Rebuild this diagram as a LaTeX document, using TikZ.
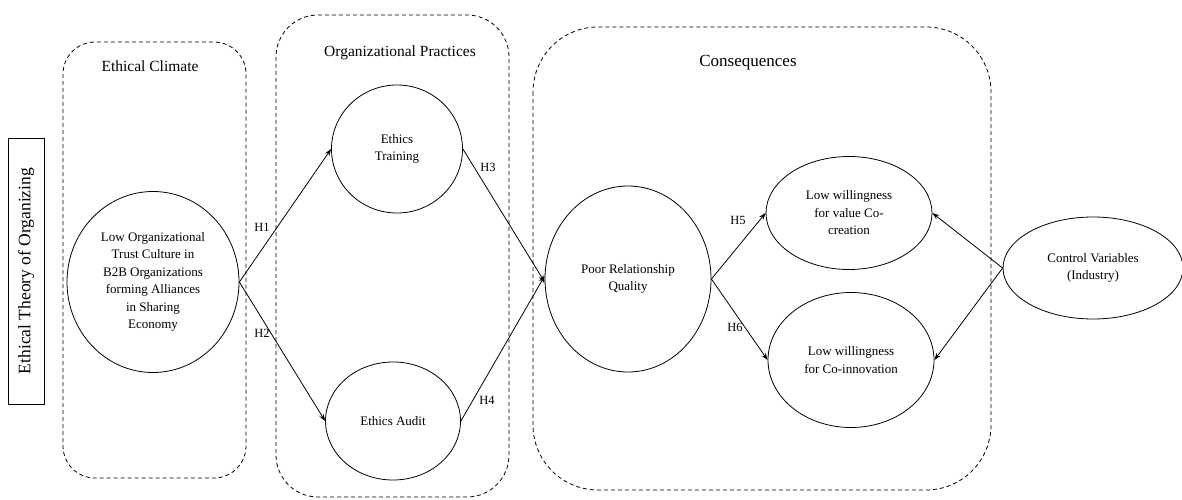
\documentclass[tikz,border=0pt]{standalone}
\usepackage{fontspec}
\setmainfont{Liberation Serif}
\usetikzlibrary{shapes.geometric,arrows.meta}
\begin{document}
\begin{tikzpicture}[x=1pt,y=-1pt,
  grp/.style={draw,dash pattern=on 4pt off 3pt,line width=0.8pt},
  ell/.style={draw,ellipse,line width=0.8pt,inner sep=0pt,align=center,
    font=\fontsize{13}{17.5}\selectfont},
  ttl/.style={font=\fontsize{15.5}{18}\selectfont},
  hl/.style={font=\fontsize{12.5}{14}\selectfont,inner sep=0pt},
  arr/.style={line width=0.8pt,-{Stealth[length=7pt,width=5pt]}}]
\useasboundingbox (0,0) rectangle (1182,500);
% group boxes
\draw[grp,rounded corners=32pt] (63,42) rectangle (246,478);
\draw[grp,rounded corners=42pt] (276,15) rectangle (509,497);
\draw[grp,rounded corners=65pt] (533,27) rectangle (991,490);
\node[ttl] (t1) at (150,66) {Ethical Climate};
\node[ttl] (t2) at (400,53) {Organizational Practices};
\node[ttl,font=\fontsize{17}{20}\selectfont] (t3) at (748,63) {Consequences};
% theory box
\node[draw,line width=0.8pt,rotate=90,minimum width=266pt,minimum height=36pt,
  inner sep=0pt,font=\fontsize{17.5}{20}\selectfont] (theory) at (26,271) {Ethical Theory of Organizing};
% nodes
\node[ell,minimum width=172pt,minimum height=181pt] (trust) at (153,282)
  {Low Organizational\\Trust Culture in\\B2B Organizations\\forming Alliances\\in Sharing\\Economy};
\node[ell,minimum width=131pt,minimum height=128pt] (train) at (397,149) {Ethics\\Training};
\node[ell,minimum width=135pt,minimum height=118pt] (audit) at (393,421) {Ethics Audit};
\node[ell,minimum width=166pt,minimum height=186pt] (prq) at (628,279) {Poor Relationship\\Quality};
\node[ell,minimum width=166pt,minimum height=113pt] (vcc) at (849,213) {Low willingness\\for value Co-\\creation};
\node[ell,minimum width=166pt,minimum height=135pt] (cin) at (851,360) {Low willingness\\for Co-innovation};
\node[ell,minimum width=180pt,minimum height=102pt] (ctrl) at (1093,268) {Control Variables\\(Industry)};
% connectors
\draw[arr] (trust.east) -- (train.west);
\draw[arr] (trust.east) -- (audit.west);
\draw[arr] (train.east) -- ([yshift=-3pt]prq.west);
\draw[arr] (audit.east) -- ([yshift=3pt]prq.west);
\draw[arr] (prq.east) -- (vcc.west);
\draw[arr] (prq.east) -- (cin.west);
\draw[arr] (ctrl.west) -- (vcc.east);
\draw[arr] (ctrl.west) -- (cin.east);
% labels
\node[hl] (h1) at (262,227) {H1};
\node[hl] (h2) at (262,333) {H2};
\node[hl] (h3) at (488,167) {H3};
\node[hl] (h4) at (487,400) {H4};
\node[hl] (h5) at (738,220) {H5};
\node[hl] (h6) at (735,327) {H6};
\end{tikzpicture}
\end{document}
